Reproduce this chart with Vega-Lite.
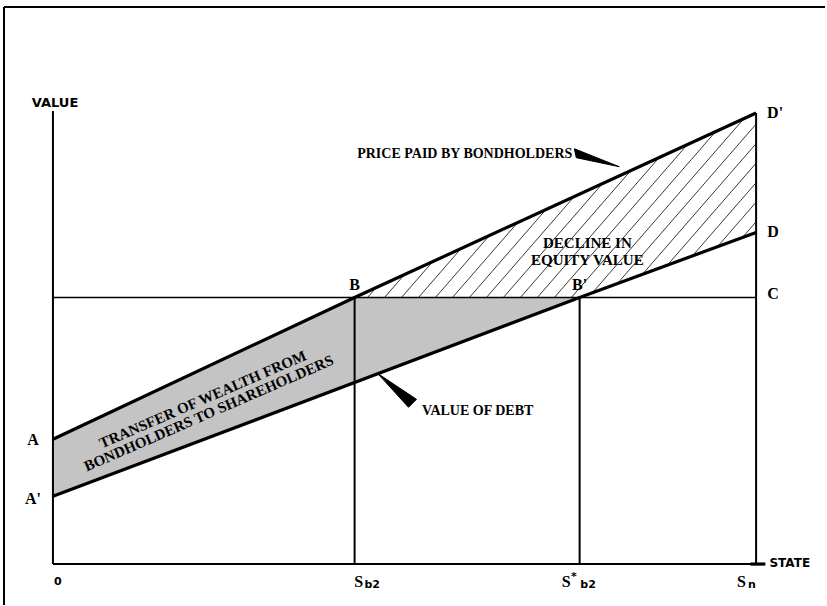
{
  "$schema": "https://vega.github.io/schema/vega-lite/v6.json",
  "width": 827,
  "height": 606,
  "autosize": {"type": "fit", "contains": "padding"},
  "padding": 0,
  "background": "white",
  "config": {"view": {"stroke": null}},
  "datasets": {
    "stipple": [
      {"x": 0, "y": 23.4, "y2": 12.7},
      {"x": 42.9, "y": 50, "y2": 34.06},
      {"x": 74.9, "y": 50, "y2": 50}
    ],
    "hatch": [
      {"x": 44.74, "y": 50, "x2": 45.96, "y2": 51.85},
      {"x": 47.16, "y": 50, "x2": 49.99, "y2": 54.3},
      {"x": 49.57, "y": 50, "x2": 54.01, "y2": 56.73},
      {"x": 51.99, "y": 50, "x2": 58.03, "y2": 59.17},
      {"x": 54.4, "y": 50, "x2": 62.06, "y2": 61.61},
      {"x": 56.82, "y": 50, "x2": 66.08, "y2": 64.05},
      {"x": 59.23, "y": 50, "x2": 70.1, "y2": 66.48},
      {"x": 61.65, "y": 50, "x2": 74.12, "y2": 68.92},
      {"x": 64.06, "y": 50, "x2": 78.14, "y2": 71.36},
      {"x": 66.48, "y": 50, "x2": 82.17, "y2": 73.8},
      {"x": 68.89, "y": 50, "x2": 86.2, "y2": 76.24},
      {"x": 71.31, "y": 50, "x2": 90.22, "y2": 78.68},
      {"x": 73.72, "y": 50, "x2": 94.24, "y2": 81.11},
      {"x": 76.72, "y": 50.88, "x2": 98.26, "y2": 83.55},
      {"x": 80.27, "y": 52.61, "x2": 100, "y2": 82.52},
      {"x": 83.83, "y": 54.34, "x2": 100, "y2": 78.86},
      {"x": 87.38, "y": 56.07, "x2": 100, "y2": 75.2},
      {"x": 90.94, "y": 57.8, "x2": 100, "y2": 71.53},
      {"x": 94.5, "y": 59.53, "x2": 100, "y2": 67.87},
      {"x": 98.06, "y": 61.26, "x2": 100, "y2": 64.21}
    ],
    "segments": [
      {"x": 0, "y": 0, "x2": 0, "y2": 85.0},
      {"x": 0, "y": 0, "x2": 101.3, "y2": 0},
      {"x": 100, "y": 0, "x2": 100, "y2": 84.6},
      {"x": 42.9, "y": 0, "x2": 42.9, "y2": 50},
      {"x": 74.9, "y": 0, "x2": 74.9, "y2": 50},
      {"x": -6.96, "y": -7.68, "x2": -6.96, "y2": 104.5},
      {"x": -6.96, "y": 104.5, "x2": 109.8, "y2": 104.5}
    ],
    "cline": [
      {"x": 0, "y": 50, "x2": 100, "y2": 50}
    ],
    "curves": [
      {"series": "price", "x": 0, "y": 23.4},
      {"series": "price", "x": 42.9, "y": 50},
      {"series": "price", "x": 100, "y": 84.6},
      {"series": "debt", "x": 0, "y": 12.7},
      {"series": "debt", "x": 74.9, "y": 50},
      {"series": "debt", "x": 100, "y": 62.2},
      {"series": "axisend", "x": 99.2, "y": 0},
      {"series": "axisend", "x": 101.3, "y": 0}
    ],
    "wedges": [
      {"id": "p", "o": 1, "x": 74.15, "y": 77.9},
      {"id": "p", "o": 2, "x": 80.54, "y": 74.53},
      {"id": "p", "o": 3, "x": 74.43, "y": 76.22},
      {"id": "p", "o": 4, "x": 74.15, "y": 77.9},
      {"id": "d", "o": 1, "x": 46.16, "y": 35.77},
      {"id": "d", "o": 2, "x": 51.7, "y": 30.9},
      {"id": "d", "o": 3, "x": 50.57, "y": 29.4},
      {"id": "d", "o": 4, "x": 46.16, "y": 35.77}
    ],
    "letters": [
      {"x": -2.84, "y": 23.2, "label": "A"},
      {"x": -2.84, "y": 12.2, "label": "A'"},
      {"x": 42.9, "y": 52.4, "label": "B"},
      {"x": 74.9, "y": 52.4, "label": "B'"},
      {"x": 102.4, "y": 50.6, "label": "C"},
      {"x": 102.4, "y": 62.2, "label": "D"},
      {"x": 102.7, "y": 84.6, "label": "D'"},
      {"x": 43.47, "y": -3.37, "label": "S"},
      {"x": 73.0, "y": -3.37, "label": "S"},
      {"x": 97.9, "y": -3.37, "label": "S"}
    ],
    "small": [
      {"x": 0.71, "y": -3.37, "label": "0"},
      {"x": 45.4, "y": -3.93, "label": "b2"},
      {"x": 74.1, "y": -2.43, "label": "*"},
      {"x": 76.1, "y": -3.93, "label": "b2"},
      {"x": 99.4, "y": -3.93, "label": "n"}
    ],
    "valuename": [
      {"x": 0.3, "y": 86.5, "label": "VALUE"}
    ],
    "statename": [
      {"x": 101.9, "y": 0.2, "label": "STATE"}
    ],
    "captionRight": [
      {"x": 73.86, "y": 76.97, "label": "PRICE PAID BY BONDHOLDERS"}
    ],
    "captionLeft": [
      {"x": 52.5, "y": 28.65, "label": "VALUE OF DEBT"}
    ],
    "captionCenter": [
      {"x": 76.0, "y": 60.2, "label": "DECLINE IN\nEQUITY VALUE"}
    ],
    "rotated": [
      {"x": 21.3, "y": 30.9, "label": "TRANSFER OF WEALTH FROM\nBONDHOLDERS TO SHAREHOLDERS"}
    ]
  },
  "encoding": {
    "x": {"field": "x", "type": "quantitative", "scale": {"domain": [-7.53, 109.94], "zero": false, "nice": false}, "axis": null},
    "y": {"field": "y", "type": "quantitative", "scale": {"domain": [-7.68, 105.8], "zero": false, "nice": false}, "axis": null}
  },
  "layer": [
    {
      "data": {"name": "stipple"},
      "mark": {"type": "area", "color": "#c4c4c4", "opacity": 1},
      "encoding": {"y2": {"field": "y2"}}
    },
    {
      "data": {"name": "hatch"},
      "mark": {"type": "rule", "color": "#222222", "strokeWidth": 0.9},
      "encoding": {"x2": {"field": "x2"}, "y2": {"field": "y2"}}
    },
    {
      "data": {"name": "segments"},
      "mark": {"type": "rule", "color": "black", "strokeWidth": 2},
      "encoding": {"x2": {"field": "x2"}, "y2": {"field": "y2"}}
    },
    {
      "data": {"name": "cline"},
      "mark": {"type": "rule", "color": "black", "strokeWidth": 1.6},
      "encoding": {"x2": {"field": "x2"}, "y2": {"field": "y2"}}
    },
    {
      "data": {"name": "curves"},
      "mark": {"type": "line", "color": "black", "strokeWidth": 3.2},
      "encoding": {"detail": {"field": "series"}}
    },
    {
      "data": {"name": "wedges"},
      "mark": {"type": "line", "color": "black", "fill": "black", "strokeWidth": 1},
      "encoding": {"detail": {"field": "id"}, "order": {"field": "o"}}
    },
    {
      "data": {"name": "letters"},
      "mark": {"type": "text", "font": "Liberation Serif", "fontWeight": "bold", "fontSize": 16, "align": "center", "baseline": "middle", "color": "black"},
      "encoding": {"text": {"field": "label"}}
    },
    {
      "data": {"name": "small"},
      "mark": {"type": "text", "font": "DejaVu Sans", "fontWeight": "bold", "fontSize": 11, "align": "center", "baseline": "middle", "color": "black"},
      "encoding": {"text": {"field": "label"}}
    },
    {
      "data": {"name": "valuename"},
      "mark": {"type": "text", "font": "DejaVu Sans", "fontWeight": "bold", "fontSize": 13, "align": "center", "baseline": "middle", "color": "black"},
      "encoding": {"text": {"field": "label"}}
    },
    {
      "data": {"name": "statename"},
      "mark": {"type": "text", "font": "DejaVu Sans", "fontWeight": "bold", "fontSize": 12, "align": "left", "baseline": "middle", "color": "black"},
      "encoding": {"text": {"field": "label"}}
    },
    {
      "data": {"name": "captionRight"},
      "mark": {"type": "text", "font": "Liberation Serif", "fontWeight": "bold", "fontSize": 14, "align": "right", "baseline": "middle", "color": "black"},
      "encoding": {"text": {"field": "label"}}
    },
    {
      "data": {"name": "captionLeft"},
      "mark": {"type": "text", "font": "Liberation Serif", "fontWeight": "bold", "fontSize": 14, "align": "left", "baseline": "middle", "color": "black"},
      "encoding": {"text": {"field": "label"}}
    },
    {
      "data": {"name": "captionCenter"},
      "mark": {"type": "text", "font": "Liberation Serif", "fontWeight": "bold", "fontSize": 15, "align": "center", "baseline": "middle", "lineBreak": "\n", "lineHeight": 17, "color": "black"},
      "encoding": {"text": {"field": "label"}}
    },
    {
      "data": {"name": "rotated"},
      "mark": {"type": "text", "font": "Liberation Serif", "fontWeight": "bold", "fontSize": 15, "align": "center", "baseline": "middle", "lineBreak": "\n", "lineHeight": 15, "angle": -23.5, "color": "black"},
      "encoding": {"text": {"field": "label"}}
    }
  ]
}
